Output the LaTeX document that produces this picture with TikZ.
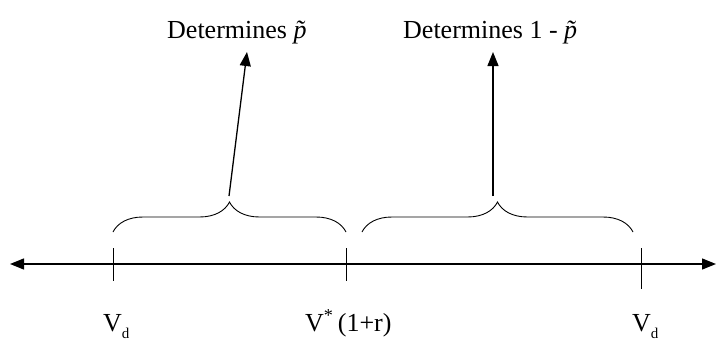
\documentclass[tikz,border=0pt]{standalone}
\usepackage{fontspec}
\setmainfont{Liberation Serif}
\usetikzlibrary{arrows.meta,decorations.pathreplacing}
\newcommand{\ptil}{{\itshape p^^^^0303}}
\newcommand{\lowsub}[1]{\raisebox{-0.3em}{\fontsize{15}{15}\selectfont #1}}
\begin{document}
\begin{tikzpicture}[x=1pt,y=-1pt,
  lbl/.style={inner sep=0pt,anchor=base west,font=\fontsize{26}{30}\selectfont},
  tick/.style={line width=0.9pt},
  brc/.style={decorate,decoration={brace,amplitude=30pt,aspect=0.5},line width=0.9pt},
  arr/.style={line width=1.3pt,-{Triangle[length=14pt,width=11pt]}}]
\useasboundingbox (0,0) rectangle (716,343);
% axis
\coordinate (L) at (10,264);
\coordinate (R) at (716,264);
\draw[line width=1.3pt,{Triangle[length=14pt,width=11pt]}-{Triangle[length=14pt,width=11pt]}] (L) -- (R);
% ticks
\coordinate (t1a) at (113,248); \coordinate (t1b) at (113,281);
\coordinate (t2a) at (346,248); \coordinate (t2b) at (346,281);
\coordinate (t3a) at (641,248); \coordinate (t3b) at (641,289);
\draw[tick] (t1a) -- (t1b);
\draw[tick] (t2a) -- (t2b);
\draw[tick] (t3a) -- (t3b);
% braces
\coordinate (b1s) at (113,232); \coordinate (b1e) at (346,232);
\coordinate (b2s) at (362,232); \coordinate (b2e) at (633,232);
\draw[brc] (b1s) -- (b1e);
\draw[brc] (b2s) -- (b2e);
% labels
\node[lbl] (det1) at (167,38) {Determines \ptil};
\node[lbl] (det2) at (403,38) {Determines 1 - \ptil};
\coordinate (a1s) at (229,196); \coordinate (a1e) at (247,52);
\coordinate (a2s) at (493,196); \coordinate (a2e) at (493,52);
\draw[arr] (a1s) -- (a1e);
\draw[arr] (a2s) -- (a2e);
\node[lbl] (vd1) at (103,331) {V\lowsub{d}};
\node[lbl] (vs) at (305,331) {V\textsuperscript{*}\,(1+r)};
\node[lbl] (vd2) at (632,331) {V\lowsub{d}};
\end{tikzpicture}
\end{document}
